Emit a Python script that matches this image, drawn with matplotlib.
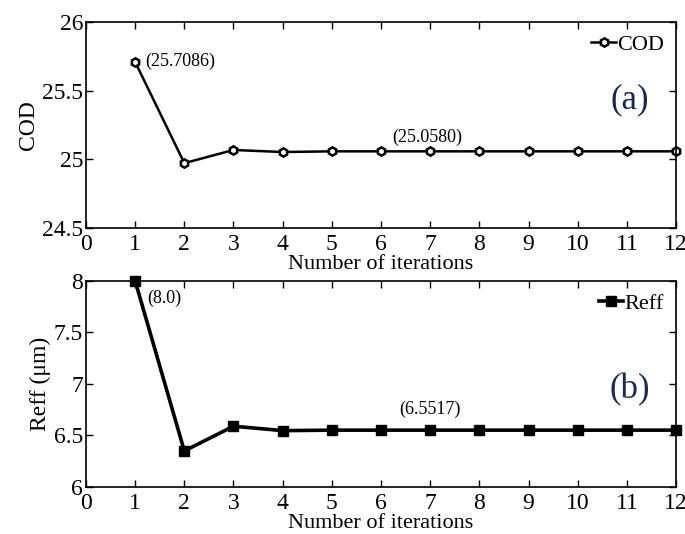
import matplotlib
matplotlib.use("Agg")
import matplotlib.pyplot as plt
from matplotlib.ticker import FuncFormatter

plt.rcParams['font.family'] = ['Liberation Serif', 'DejaVu Serif']

# Data
iterations = [1, 2, 3, 4, 5, 6, 7, 8, 9, 10, 11, 12]
cod = [25.7086, 24.972, 25.068, 25.053, 25.058, 25.058, 25.058, 25.058,
       25.058, 25.058, 25.058, 25.058]
reff = [8.0, 6.35, 6.59, 6.547, 6.5517, 6.5517, 6.5517, 6.5517,
        6.5517, 6.5517, 6.5517, 6.5517]

fig = plt.figure(figsize=(6.85, 5.34), dpi=100)
ax1 = fig.add_axes([0.1255, 0.573, 0.8615, 0.386])
ax2 = fig.add_axes([0.1255, 0.088, 0.8615, 0.386])

fmt = FuncFormatter(lambda v, p: "%g" % v)

# (a) COD
ax1.plot(iterations, cod, color='black', lw=1.8, marker='h', ms=6,
         mfc='white', mec='black', mew=1.8, clip_on=False, label='COD')
ax1.set_ylim(24.5, 26)
ax1.set_yticks([24.5, 25, 25.5, 26])
ax1.set_ylabel('COD', fontsize=17, labelpad=2)
ax1.annotate('(25.7086)', (1.2, 25.71), fontsize=13, va='center', ha='left')
ax1.annotate('(25.0580)', (6.95, 25.16), fontsize=13, va='center', ha='center')
ax1.text(11.05, 25.43, '(a)', fontsize=25, color='#1c2a4a', ha='center', va='center')
ax1.legend(loc='upper right', frameon=False, fontsize=16, handlelength=1.1,
           handletextpad=0.05, borderaxespad=0.15)

# (b) Reff
ax2.plot(iterations, reff, color='black', lw=2.6, marker='s', ms=7,
         clip_on=False, label='Reff')
ax2.set_ylim(6, 8)
ax2.set_yticks([6, 6.5, 7, 7.5, 8])
ax2.set_ylabel('Reff (μm)', fontsize=17, labelpad=2)
ax2.annotate('(8.0)', (1.24, 7.83), fontsize=13, va='center', ha='left')
ax2.annotate('(6.5517)', (7.0, 6.75), fontsize=13, va='center', ha='center')
ax2.text(11.05, 6.94, '(b)', fontsize=25, color='#1c2a4a', ha='center', va='center')
ax2.legend(loc='upper right', frameon=False, fontsize=16, handlelength=1.1,
           handletextpad=0.05, borderaxespad=0.15)

for ax in (ax1, ax2):
    ax.set_xlim(0, 12)
    ax.set_xticks(range(0, 13))
    ax.xaxis.set_major_formatter(fmt)
    ax.yaxis.set_major_formatter(fmt)
    ax.set_xlabel('Number of iterations', fontsize=16, labelpad=0)
    ax.tick_params(direction='in', top=True, right=True, labelsize=17,
                   length=5, width=1)
    ax.tick_params(axis='x', pad=4)
    ax.tick_params(axis='y', pad=2)
    for s in ax.spines.values():
        s.set_linewidth(1.2)

fig.savefig('out.png', dpi=100)
